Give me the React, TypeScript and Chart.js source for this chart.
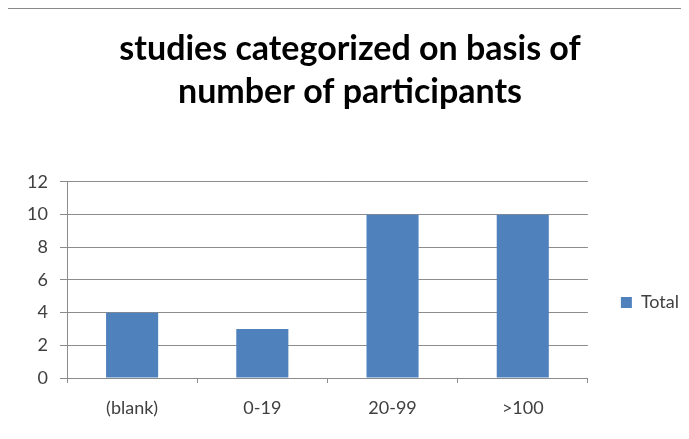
import React, { useEffect, useRef } from "react";
import { Chart, registerables } from "chart.js";

Chart.register(...registerables);

const titleLines = ["studies categorized on basis of", "number of participants"];
const categories = ["(blank)", "0-19", "20-99", ">100"];
const seriesLabel = "Total";
const totals = [4, 3, 10, 10];
const yMin = 0;
const yMax = 12;
const yStep = 2;

const FONT = "Lato, 'Open Sans', sans-serif";
const BAR = "#4F81BD";
const GRID = "#8c8c8c";
const TEXT = "#404040";

export default function App() {
  const ref = useRef<HTMLCanvasElement>(null);
  useEffect(() => {
    if (!ref.current) return;
    const chart = new Chart(ref.current, {
      type: "bar",
      data: {
        labels: categories,
        datasets: [
          {
            label: seriesLabel,
            data: totals,
            backgroundColor: BAR,
            borderWidth: 0,
            categoryPercentage: 1,
            barPercentage: 0.4,
          },
        ],
      },
      options: {
        animation: false,
        responsive: false,
        devicePixelRatio: 1,
        layout: { padding: { left: 11, right: 0, bottom: 0, top: 0 } },
        plugins: {
          legend: {
            display: true,
            position: "right",
            align: "center",
            maxWidth: 104,
            title: { display: true, text: " ", font: { size: 12, lineHeight: 1.2 }, padding: { top: 0, bottom: 151.6 } },
            labels: {
              color: TEXT,
              font: { family: FONT, size: 18 },
              boxWidth: 11,
              boxHeight: 11,
              padding: 33,
            },
          },
          tooltip: { enabled: false },
          title: {
            display: true,
            text: titleLines,
            color: "#000",
            font: { family: FONT, size: 34, weight: "bold", lineHeight: 1.27 },
            padding: { top: 27, bottom: 68.6 },
          },
        },
        scales: {
          x: {
            afterFit: (s: any) => {
              s.height = 61;
            },
            grid: {
              display: true,
              drawOnChartArea: false,
              drawTicks: true,
              tickLength: 5,
              color: GRID,
              offset: true,
            },
            border: { display: true, color: GRID, width: 1 },
            ticks: {
              color: TEXT,
              font: { family: FONT, size: 18 },
              padding: 14,
            },
          },
          y: {
            min: yMin,
            max: yMax,
            afterFit: (s: any) => {
              s.width = 56;
            },
            grid: { color: GRID, tickLength: 7, lineWidth: 1 },
            border: { display: true, color: GRID, width: 1 },
            ticks: {
              stepSize: yStep,
              color: TEXT,
              font: { family: FONT, size: 18 },
              padding: 12,
            },
          },
        },
      },
    });
    return () => chart.destroy();
  }, []);
  return (
    <div style={{ position: "relative", width: 689, height: 439, margin: -8, background: "#fff", overflow: "hidden" }}>
      <div
        style={{
          position: "absolute",
          left: 3,
          top: 7,
          width: 700,
          height: 460,
          borderLeft: "2px solid #8a8a8a",
          borderTop: "2px solid #8a8a8a",
          boxSizing: "border-box",
        }}
      />
      <canvas ref={ref} width={689} height={439} style={{ position: "absolute", left: 0, top: 0 }} />
    </div>
  );
}
